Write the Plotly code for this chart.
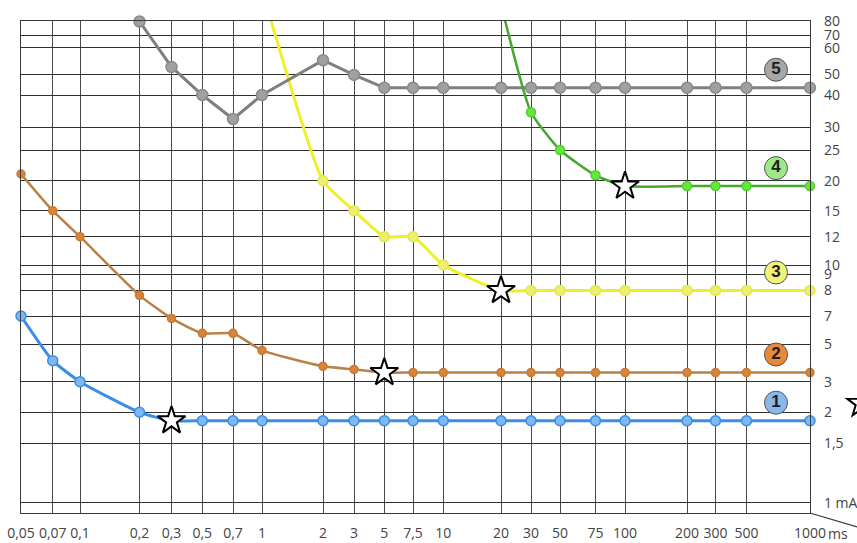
import numpy as np
import plotly.graph_objects as go

# ---------------- data ----------------
times = [0.05, 0.07, 0.1, 0.2, 0.3, 0.5, 0.7, 1, 2, 3, 5, 7.5, 10, 20, 30, 50, 75, 100, 200, 300, 500, 1000]
time_labels = ["0,05", "0,07", "0,1", "0,2", "0,3", "0,5", "0,7", "1", "2", "3", "5", "7,5", "10",
               "20", "30", "50", "75", "100", "200", "300", "500", "1000"]
current_ticks = [80, 70, 60, 50, 40, 30, 25, 20, 15, 12, 10, 9, 8, 7, 5, 3, 2, 1.5, 1]
current_labels = ["80", "70", "60", "50", "40", "30", "25", "20", "15", "12", "10", "9", "8", "7",
                  "5", "3", "2", "1,5", "1 mA"]

# series 1 (blue)
s1_t = times
s1_v = [7, 4, 3, 2, 1.85, 1.85, 1.85, 1.85, 1.85, 1.85, 1.85, 1.85, 1.85, 1.85, 1.85, 1.85,
        1.85, 1.85, 1.85, 1.85, 1.85, 1.85]
# series 2 (orange)
s2_t = times
s2_v = [21, 15, 12, 7.8, 6.8, 5.7, 5.7, 4.6, 3.7, 3.55, 3.4, 3.4, 3.4, 3.4, 3.4, 3.4,
        3.4, 3.4, 3.4, 3.4, 3.4, 3.4]
# series 3 (yellow)
s3_t = [1, 2, 3, 5, 7.5, 10, 20, 30, 50, 75, 100, 200, 300, 500, 1000]
s3_v = [110, 20, 15, 12, 12, 10, 8, 8, 8, 8, 8, 8, 8, 8, 8]
# series 4 (green)
s4_t = [20, 30, 50, 75, 100, 200, 300, 500, 1000]
s4_v = [95, 34.3, 25, 20.8, 19, 19, 19, 19, 19]
# series 5 (grey)
s5_t = [0.2, 0.3, 0.5, 0.7, 1, 2, 3, 5, 7.5, 10, 20, 30, 50, 75, 100, 200, 300, 500, 1000]
s5_v = [80, 52.5, 40, 32.3, 40, 55, 49.5, 43.2, 43.2, 43.2, 43.2, 43.2, 43.2, 43.2, 43.2,
        43.2, 43.2, 43.2, 43.2]

series_names = ["1", "2", "3", "4", "5"]

# star marks (time ms, current mA); the last one sits past the right edge of the grid
stars_t = [0.3, 5, 20, 100, 1750]
stars_v = [1.85, 3.4, 8, 19, 2.25]

# ---------------- layout / scale (chart's own irregular grid) ----------------
X_TICK_POS = [21, 52.7, 80, 139.5, 171.5, 202.3, 233, 262, 323, 354, 384.3, 413, 443.3,
              501, 531, 560, 595.5, 625, 687, 715.5, 746.5, 810]
Y_TICK_POS = [21.5, 35, 47.7, 74, 95, 127.3, 150, 180.7, 210.7, 236.7, 265, 274.2, 290.5,
              316, 344.3, 381.7, 412.3, 443.3, 502.8]
W, H = 857, 543
ML, MR, MT, MB = 21, 47, 21, 30
PW, PH = W - ML - MR, H - MT - MB


def make_scale(vals, pos):
    lv = np.log10(np.asarray(vals, float))
    p = np.asarray(pos, float)
    o = np.argsort(lv)
    lv, p = lv[o], p[o]

    def f(v):
        x = np.log10(np.asarray(v, float))
        out = np.interp(x, lv, p)
        lo_s = (p[1] - p[0]) / (lv[1] - lv[0])
        hi_s = (p[-1] - p[-2]) / (lv[-1] - lv[-2])
        out = np.where(x < lv[0], p[0] + (x - lv[0]) * lo_s, out)
        out = np.where(x > lv[-1], p[-1] + (x - lv[-1]) * hi_s, out)
        return out
    return f


xs = make_scale(times, X_TICK_POS)
ys = make_scale(current_ticks, Y_TICK_POS)

styles = {
    "1": dict(line="#3a8ee6", fill="#7db8f0", edge="#3a8ee6", size=10, lw=3, shape="spline", lab="#8ab8ea"),
    "2": dict(line="#b98048", fill="#d9843a", edge="#c87a32", size=8, lw=2.5, shape="spline", lab="#e8893a"),
    "3": dict(line="#f0f02a", fill="#eeee70", edge="#e6e64a", size=10, lw=3, shape="spline", lab="#f0f07a"),
    "4": dict(line="#44a82c", fill="#66e83a", edge="#52cc30", size=9, lw=2.5, shape="spline", lab="#9ee88a"),
    "5": dict(line="#7f7f7f", fill="#a0a0a0", edge="#8a8a8a", size=11, lw=3, shape="linear", lab="#a6a6a6"),
}
data = {"1": (s1_t, s1_v), "2": (s2_t, s2_v), "3": (s3_t, s3_v), "4": (s4_t, s4_v), "5": (s5_t, s5_v)}

fig = go.Figure()
for name in ["1", "2", "3", "5", "4"]:
    t, v = data[name]
    st = styles[name]
    px_x = xs(t)
    px_y = ys(v)
    fig.add_trace(go.Scatter(x=px_x, y=px_y, mode="lines",
                             line=dict(color=st["line"], width=st["lw"], shape=st["shape"], smoothing=0.5),
                             hoverinfo="skip", showlegend=False))
    vis = np.asarray(v) <= 80
    fig.add_trace(go.Scatter(x=px_x[vis], y=px_y[vis], mode="markers", cliponaxis=False,
                             marker=dict(size=st["size"], color=st["fill"],
                                         line=dict(color=st["edge"], width=1.5)),
                             hoverinfo="skip", showlegend=False))

# stars inside the grid as markers; the one beyond the grid as a path shape
STAR_SIZE = 21
sx, sy = xs(stars_t), ys(stars_v)
inside = sx <= W - MR
fig.add_trace(go.Scatter(x=sx[inside], y=sy[inside], mode="markers", cliponaxis=False,
                         marker=dict(symbol="star", size=STAR_SIZE, color="white",
                                     line=dict(color="black", width=2)),
                         hoverinfo="skip", showlegend=False))


def star_path(cx, cy, r_out, r_in_ratio=0.4):
    pts = []
    for k in range(10):
        r = r_out if k % 2 == 0 else r_out * r_in_ratio
        a = np.pi / 2 + k * np.pi / 5
        px_ = cx + r * np.cos(a)
        py_ = cy - r * np.sin(a)
        pts.append(((px_ - ML) / PW, (H - MB - py_) / PH))
    return "M " + " L ".join("%.5f,%.5f" % p for p in pts) + " Z"


shapes = [dict(type="line", xref="paper", yref="paper", x0=1.0, y0=0.0,
               x1=(857 - ML) / PW, y1=-(527 - (H - MB)) / PH,
               line=dict(color="#3a3a3a", width=1.2))]
for cx, cy in zip(sx[~inside], sy[~inside]):
    shapes.append(dict(type="path", xref="paper", yref="paper", path=star_path(cx, cy, 0.7 * STAR_SIZE),
                       fillcolor="white", line=dict(color="black", width=2)))

# numbered circle labels, just above each series' final level
LABEL_X = 776
LABEL_DY = 18
lab_y = [float(ys([data[n][1][-1]])[0]) - LABEL_DY for n in series_names]
fig.add_trace(go.Scatter(x=[LABEL_X] * 5, y=lab_y, mode="markers+text", cliponaxis=False,
                         text=["<b>%s</b>" % n for n in series_names], textposition="middle center",
                         textfont=dict(family="Liberation Sans", size=17, color="#1e1e1e"),
                         marker=dict(size=23, color=[styles[n]["lab"] for n in series_names],
                                     line=dict(color="#555555", width=1)),
                         hoverinfo="skip", showlegend=False))

tick_font = dict(family="Open Sans", size=14, color="#444444")
grid_common = dict(showgrid=True, gridwidth=1.2, zeroline=False, showline=True, mirror=True,
                   linecolor="#3a3a3a", linewidth=1.2, ticks="", tickfont=tick_font,
                   fixedrange=True, automargin=False)

fig.update_layout(
    width=W, height=H,
    margin=dict(l=ML, r=MR, t=MT, b=MB, autoexpand=False),
    paper_bgcolor="white", plot_bgcolor="white",
    xaxis=dict(range=[ML, W - MR], tickmode="array", tickvals=X_TICK_POS, ticktext=time_labels,
               gridcolor="#4a4a4a", ticklabelstandoff=7, **grid_common),
    yaxis=dict(range=[H - MB, MT], side="right", tickmode="array", tickvals=Y_TICK_POS,
               ticktext=current_labels, gridcolor="#303030", ticklabelstandoff=10, **grid_common),
    annotations=[dict(text="ms", xref="paper", yref="paper", x=(838 - ML) / PW, y=-0.018,
                      xanchor="center", yanchor="top", showarrow=False, font=tick_font)],
    shapes=shapes,
)

fig.write_html("out.html", config={"displayModeBar": False},
               post_script="document.body.style.margin='0';document.body.style.overflow='hidden';")
